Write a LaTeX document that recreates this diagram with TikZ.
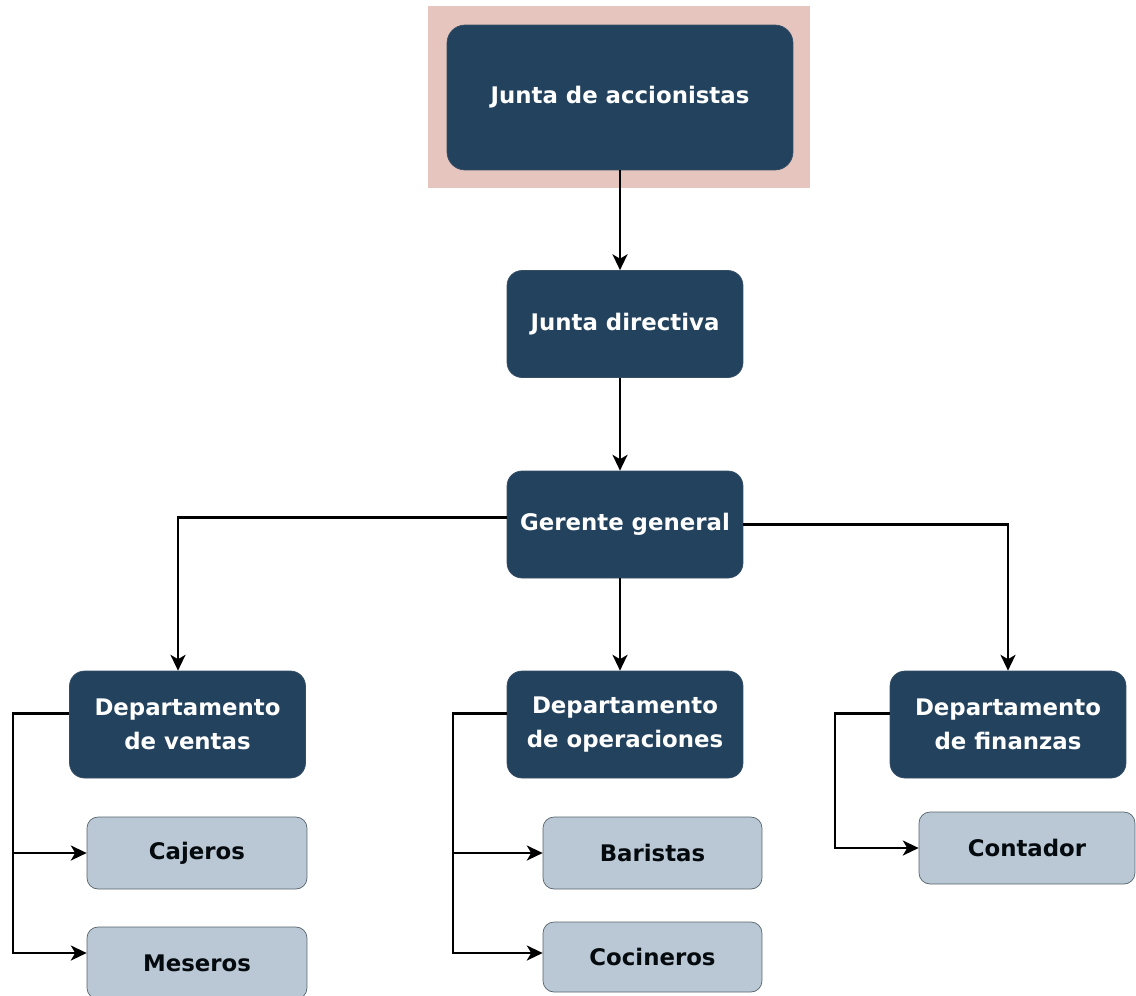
\documentclass[tikz,border=0pt]{standalone}
\usepackage{fontspec}
\setmainfont{DejaVu Sans}
\usetikzlibrary{arrows.meta}

\definecolor{navy}{HTML}{23425E}
\definecolor{rosebg}{HTML}{E5C5BE}
\definecolor{paleblue}{HTML}{B9C8D4}
\definecolor{paleedge}{HTML}{56626C}

\tikzset{
    darkbox/.style={draw=navy!80!gray, fill=navy, rounded corners=0.3cm,
        text=white, font=\fontsize{13}{19.5}\selectfont\bfseries, align=center,
        minimum width=4.72cm, minimum height=2.14cm, inner sep=0pt},
    palebox/.style={draw=paleedge, fill=paleblue, rounded corners=0.22cm,
        text=black!85!navy, font=\fontsize{13}{19.5}\selectfont\bfseries,
        minimum width=4.4cm, minimum height=1.44cm, inner sep=0pt},
    link/.style={line width=1.6pt, -{Stealth[length=9pt, width=8.5pt, inset=2.5pt]}},
    wire/.style={line width=1.6pt}
}

\begin{document}
\begin{tikzpicture}[x=0.02cm, y=-0.02cm]
    \useasboundingbox (0,0) rectangle (1136,995);
    \clip (0,0) rectangle (1136,995);

    % top level
    \fill [rosebg] (428,6) rectangle (810,188);
    \node [darkbox, minimum width=6.92cm, minimum height=2.9cm, rounded corners=0.36cm] (junta) at (620,97.5) {Junta de accionistas};
    \node [darkbox] (directiva) at (625,324) {Junta directiva};
    \node [darkbox] (gerente) at (625,524.5) {Gerente general};

    % departments
    \node [darkbox] (ventas) at (187.5,724.5) {Departamento\\de ventas};
    \node [darkbox] (operaciones) at (625,724.5) {Departamento\\de operaciones};
    \node [darkbox] (finanzas) at (1008,724.5) {Departamento\\de finanzas};

    % staff
    \node [palebox] (cajeros) at (197,853) {Cajeros};
    \node [palebox] (meseros) at (197,963) {Meseros};
    \node [palebox, minimum width=4.38cm] (baristas) at (652.5,853) {Baristas};
    \node [palebox, minimum width=4.38cm, minimum height=1.4cm] (cocineros) at (652.5,957) {Cocineros};
    \node [palebox, minimum width=4.32cm] (contador) at (1027,848) {Contador};

    \coordinate (ventasbus) at (13,853);
    \coordinate (operbus) at (453,853);
    \coordinate (finbus) at (835,848);

    % chain of command
    \draw [link] (junta.south) -- (junta.south |- directiva.north);
    \draw [link] ([xshift=-0.1cm]directiva.south) -- ([xshift=-0.1cm]gerente.north);
    \draw [link] ([xshift=-0.1cm]gerente.south) -- ([xshift=-0.1cm]operaciones.north);
    \draw [link] ([yshift=0.14cm]gerente.west) -| ([xshift=-0.19cm]ventas.north);
    \draw [link] (gerente.east) -| (finanzas.north);

    % department staff
    \draw [link] ([yshift=0.22cm]ventas.west) -| (ventasbus) |- (cajeros.west);
    \draw [link] (ventasbus) |- ([yshift=0.2cm]meseros.west);
    \draw [link] ([yshift=0.22cm]operaciones.west) -| (operbus) |- (baristas.west);
    \draw [link] (operbus) |- ([yshift=0.08cm]cocineros.west);
    \draw [link] ([yshift=0.22cm]finanzas.west) -| (finbus) |- (contador.west);
\end{tikzpicture}
\end{document}
